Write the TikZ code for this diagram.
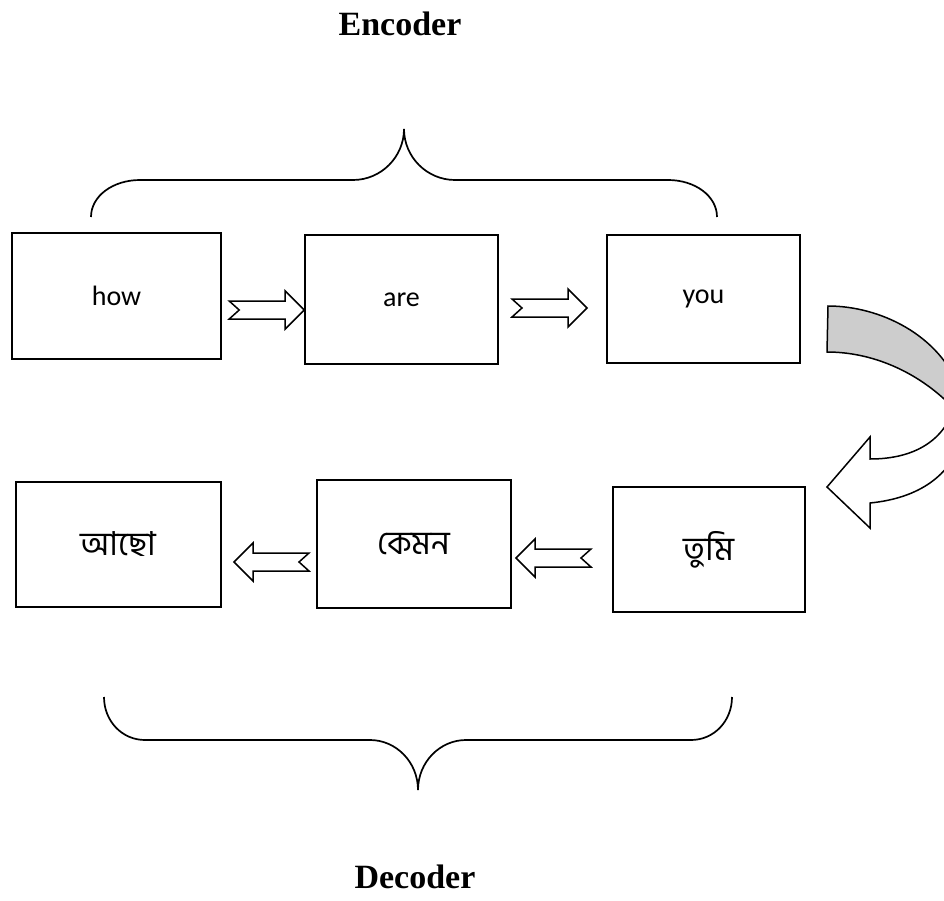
\documentclass[tikz,border=0pt]{standalone}
\usepackage{fontspec}
\setmainfont{Liberation Serif}
\newfontfamily\wordfont{Carlito}
\newfontfamily\bnfont[Script=Bengali]{Hind Siliguri}
\definecolor{bandgrey}{RGB}{205,205,205}

\begin{document}
\begin{tikzpicture}[x=1pt,y=-1pt,
  line join=miter,
  wordbox/.style={draw=black, line width=1.6pt, fill=white, inner sep=0pt},
  entext/.style={font=\wordfont\fontsize{28}{32}\selectfont},
  bntext/.style={font=\bnfont\fontsize{33}{38}\selectfont},
  brace/.style={draw=black, line width=1.7pt},
  blockarrow/.style={draw=black, line width=1.5pt, fill=white},
  title/.style={font=\bfseries\fontsize{34}{40}\selectfont},
  pics/notcharrow/.style={code={
    \path[blockarrow] (0,0) -- (-19,-19) -- (-19,-9) -- (-75,-9) -- (-65,0)
      -- (-75,9) -- (-19,9) -- (-19,19) -- cycle;}}
]
\useasboundingbox (0,0) rectangle (944,901);

% titles
\node[title] (enc) at (400,24) {Encoder};
\node[title] (dec) at (415,877) {Decoder};

% encoder words
\node[wordbox, minimum width=209pt, minimum height=126pt, entext] (how) at (116.5,296) {how};
\node[wordbox, minimum width=193pt, minimum height=129pt, entext] (are) at (401.5,299.5) {are};
\node[wordbox, minimum width=193pt, minimum height=128pt, entext] (you) at (703.5,299) {you};

% decoder words
\node[wordbox, minimum width=205pt, minimum height=125pt, bntext] (ache) at (118.5,544.5) {আছো};
\node[wordbox, minimum width=194pt, minimum height=128pt, bntext] (kemon) at (414,544) {কেমন};
\node[wordbox, minimum width=192pt, minimum height=125pt, bntext] (tumi) at (709,549.5) {তুমি};

% block arrows between the words (tip at the given point)
\coordinate (t1) at ([yshift=-10.5pt]are.west);
\coordinate (t2) at (587,308);
\coordinate (t3) at (234,562);
\coordinate (t4) at (516,558);
\pic at (t1) {notcharrow};
\pic at (t2) {notcharrow};
\pic[rotate=180] at (t3) {notcharrow};
\pic[rotate=180] at (t4) {notcharrow};

% top brace over the encoder
\path[brace] (91,217) .. controls (91,196) and (113,180) .. (140,180)
  -- (353,180) .. controls (381,180) and (404,157) .. (404,129)
  .. controls (404,157) and (427,180) .. (455,180)
  -- (668,180) .. controls (695,180) and (717,196) .. (717,217);

% bottom brace under the decoder
\path[brace] (104,697) .. controls (104,721) and (122,740) .. (145,740)
  -- (370,740) .. controls (396,740) and (418,762) .. (418,790)
  .. controls (418,762) and (440,740) .. (466,740)
  -- (691,740) .. controls (714,740) and (732,721) .. (732,697);

% curved arrow from the encoder row down to the decoder row
\begin{scope}
  \clip (0,0) rectangle (944,901);
  \path[draw=black, line width=1.5pt, fill=bandgrey]
    (828,306) .. controls (880,306) and (940,335) .. (960,390)
    -- (960,415) .. controls (920,370) and (870,352) .. (827,352) -- cycle;
  \path[draw=black, line width=1.5pt, fill=white]
    (870,459) -- (870,437) -- (827,487) -- (870,528) -- (870,503)
    .. controls (920,498) and (950,475) .. (962,440)
    -- (955,405) .. controls (945,440) and (915,459) .. (870,459) -- cycle;
\end{scope}
\end{tikzpicture}
\end{document}
